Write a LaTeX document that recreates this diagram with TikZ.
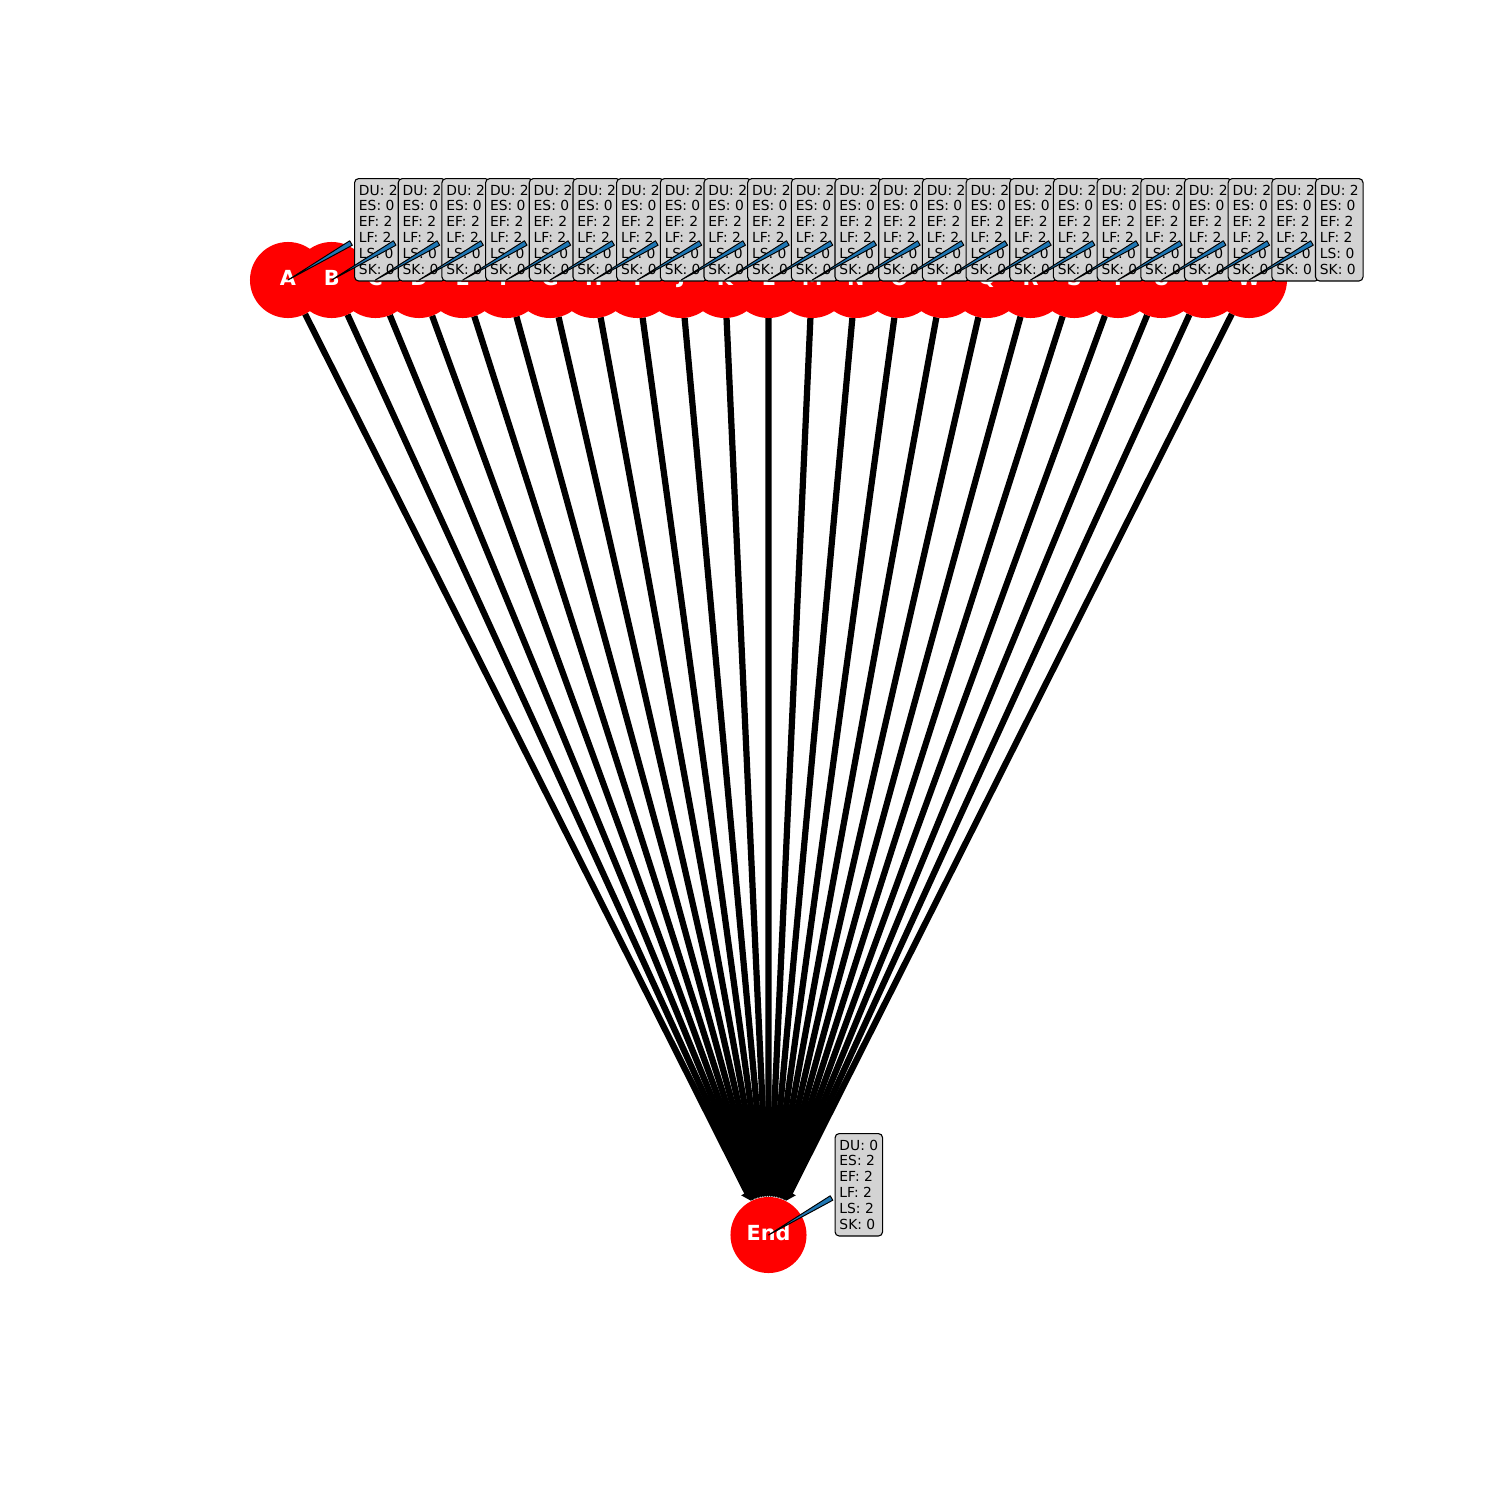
\documentclass[tikz,border=0pt]{standalone}
\usepackage{fontspec}
\setmainfont{DejaVu Sans}
\usetikzlibrary{arrows.meta,positioning,calc}
\pgfdeclarelayer{bg}
\pgfsetlayers{bg,main}
\definecolor{boxgray}{HTML}{D3D3D3}
\definecolor{wedgeblue}{HTML}{1F77B4}

\begin{document}
\begin{tikzpicture}[x=0.01in,y=-0.01in,
  task/.style={circle,fill=red,minimum size=0.76in,inner sep=0pt,outer sep=0pt},
  tasklabel/.style={text=white,inner sep=0pt,yshift=1.5pt,font=\fontsize{15}{17}\selectfont\bfseries},
  info/.style={draw=black,line width=0.8pt,fill=boxgray,rounded corners=3pt,
    anchor=north west,minimum width=0.47in,minimum height=74pt,
    inner xsep=3.2pt,inner ysep=0pt,align=left,font=\fontsize{10}{11.5}\selectfont},
  wedge/.style={fill=wedgeblue,draw=black,line width=0.7pt,line join=round},
  edge/.style={line width=4.5pt,-{Triangle[length=7pt,width=9pt]}}]
\useasboundingbox (0,0) rectangle (1500,1500);
% task nodes in one row, end node below
\foreach \l [count=\i from 0] in {A,...,W} {
  \pgfmathsetmacro{\xx}{288+43.68*\i}
  \node[task] (n\l) at (\xx,280) {};
}
\node[task] (end) at (768.5,1235) {};
% edges to the end node
\begin{pgfonlayer}{bg}
\foreach \l in {A,...,W} {
  \draw[edge] (n\l) -- (end);
}
\end{pgfonlayer}
% node labels
\foreach \l in {A,...,W} {
  \node[tasklabel] (l\l) at (n\l) {\l};
}
\node[tasklabel] (lend) at (end) {End};
% schedule boxes with wedge pointers
\foreach \l in {A,...,W} {
  \filldraw[wedge] (n\l.center) -- ($(n\l)+(64.3,-34.8)$) -- ($(n\l)+(61.7,-39.2)$) -- cycle;
  \node[info] (i\l) at ($(n\l)+(66,-102)$) {DU: 2\\ES: 0\\EF: 2\\LF: 2\\LS: 0\\SK: 0};
}
\filldraw[wedge] (end.center) -- ($(end)+(64.3,-34.8)$) -- ($(end)+(61.7,-39.2)$) -- cycle;
\node[info] (iend) at ($(end)+(66,-102)$) {DU: 0\\ES: 2\\EF: 2\\LF: 2\\LS: 2\\SK: 0};
\end{tikzpicture}
\end{document}
